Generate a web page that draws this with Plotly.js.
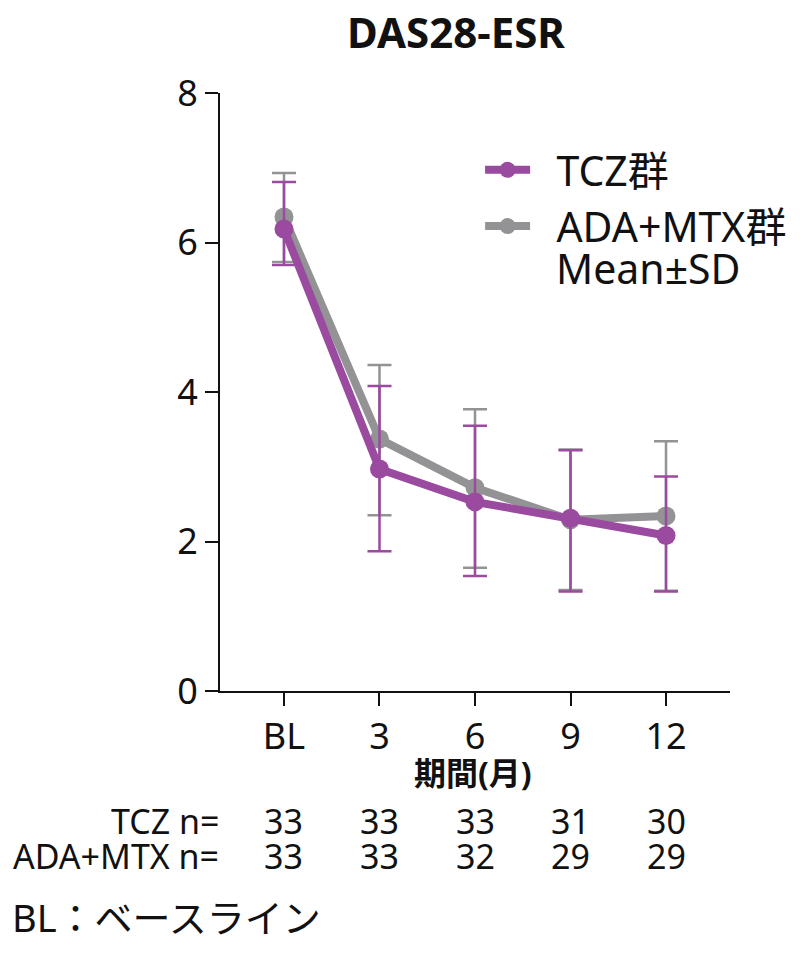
<!DOCTYPE html>
<html>
<head>
<meta charset="utf-8">
<script src="https://cdn.plot.ly/plotly-3.0.1.min.js"></script>
<style>html,body{margin:0;padding:0;background:#fff;}</style>
</head>
<body>
<div id="chart" style="width:800px;height:955px;"></div>
<script>
// Categories (months)
const categories = ["BL", "3", "6", "9", "12"];
// TCZ group
const tczMean = [6.18, 2.97, 2.53, 2.31, 2.08];
const tczSDplus = [0.63, 1.11, 1.02, 0.91, 0.79];
const tczSDminus = [0.48, 1.10, 0.99, 0.98, 0.75];
// ADA+MTX group
const adaMean = [6.34, 3.37, 2.72, 2.29, 2.34];
const adaSDplus = [0.59, 0.99, 1.05, 0.94, 1.00];
const adaSDminus = [0.60, 1.02, 1.07, 0.94, 1.00];
// n per time point
const nTCZ = [33, 33, 33, 31, 30];
const nADA = [33, 33, 32, 29, 29];
// Labels
const tczName = "TCZ群";
const adaName = "ADA+MTX群";
const titleText = "DAS28-ESR";
const xTitle = "期間(月)";
const sdNote = "Mean±SD";
const blNote = "BL：ベースライン";

const purple = "#9a4a9f";
const gray = "#939396";
const font = "'Noto Sans', 'Noto Sans CJK JP', sans-serif";
const ink = "#111";
const xIdx = categories.map((c, i) => i);
const pad = "\u00a0\u00a0";

const traces = [
  {
    x: xIdx, y: adaMean, name: pad + adaName, type: "scatter", mode: "lines+markers",
    legendrank: 2,
    line: {color: gray, width: 8},
    marker: {color: gray, size: 19},
    error_y: {type: "data", symmetric: false, array: adaSDplus, arrayminus: adaSDminus,
      color: gray, thickness: 2.5, width: 12}
  },
  {
    x: xIdx, y: tczMean, name: pad + tczName, type: "scatter", mode: "lines+markers",
    legendrank: 1,
    line: {color: purple, width: 8},
    marker: {color: purple, size: 19},
    error_y: {type: "data", symmetric: false, array: tczSDplus, arrayminus: tczSDminus,
      color: purple, thickness: 2.5, width: 12}
  }
];

const annotations = [];
const rowY1 = -0.217, rowY2 = -0.276;
const nFont = {family: font, size: 34, color: ink};
annotations.push({xref: "paper", yref: "paper", x: 0, y: rowY1, xanchor: "right", yanchor: "middle",
  text: "TCZ n=", showarrow: false, font: nFont, borderpad: 0});
annotations.push({xref: "paper", yref: "paper", x: 0, y: rowY2, xanchor: "right", yanchor: "middle",
  text: "ADA+MTX n=", showarrow: false, font: nFont, borderpad: 0});
xIdx.forEach((xi, i) => {
  annotations.push({xref: "x", yref: "paper", x: xi, y: rowY1, xanchor: "center", yanchor: "middle",
    text: String(nTCZ[i]), showarrow: false, font: nFont, borderpad: 0});
  annotations.push({xref: "x", yref: "paper", x: xi, y: rowY2, xanchor: "center", yanchor: "middle",
    text: String(nADA[i]), showarrow: false, font: nFont, borderpad: 0});
});
annotations.push({xref: "x", yref: "paper", x: 1.98, y: -0.136, xanchor: "center", yanchor: "middle",
  text: "<b>" + xTitle + "</b>", showarrow: false, font: {family: font, size: 32, color: ink}});
annotations.push({xref: "paper", yref: "paper", x: -0.412, y: -0.378, xanchor: "left", yanchor: "middle",
  text: blNote, showarrow: false, font: {family: font, size: 38, color: ink}});
annotations.push({xref: "paper", yref: "paper", x: 0.655, y: 0.707, xanchor: "left", yanchor: "middle",
  text: sdNote, showarrow: false, font: {family: font, size: 41, color: ink}});

const layout = {
  width: 800, height: 955,
  margin: {l: 220, r: 70, t: 93, b: 264, autoexpand: false},
  paper_bgcolor: "#fff", plot_bgcolor: "#fff",
  font: {family: font, color: ink},
  title: {text: "<b>" + titleText + "</b>", x: 0.57, xanchor: "center", y: 0.965, yanchor: "middle",
    yref: "container", font: {family: font, size: 42, color: ink}},
  xaxis: {
    range: [-0.67, 4.67], tickvals: xIdx, ticktext: categories,
    showgrid: false, zeroline: false, showline: true, linecolor: ink, linewidth: 2,
    ticks: "outside", ticklen: 13, tickwidth: 2, tickcolor: ink,
    tickfont: {family: font, size: 36, color: ink}, fixedrange: true
  },
  yaxis: {
    range: [0, 8], tickvals: [0, 2, 4, 6, 8],
    showgrid: false, zeroline: false, showline: true, linecolor: ink, linewidth: 2,
    ticks: "outside", ticklen: 13, tickwidth: 2, tickcolor: ink,
    tickfont: {family: font, size: 36, color: ink}, fixedrange: true
  },
  showlegend: true,
  legend: {x: 0.51, y: 0.927, xanchor: "left", yanchor: "top", traceorder: "normal",
    font: {family: font, size: 41, color: ink}, bgcolor: "rgba(0,0,0,0)",
    itemwidth: 45},
  annotations: annotations
};

Plotly.newPlot("chart", traces, layout, {staticPlot: true});
</script>
</body>
</html>
